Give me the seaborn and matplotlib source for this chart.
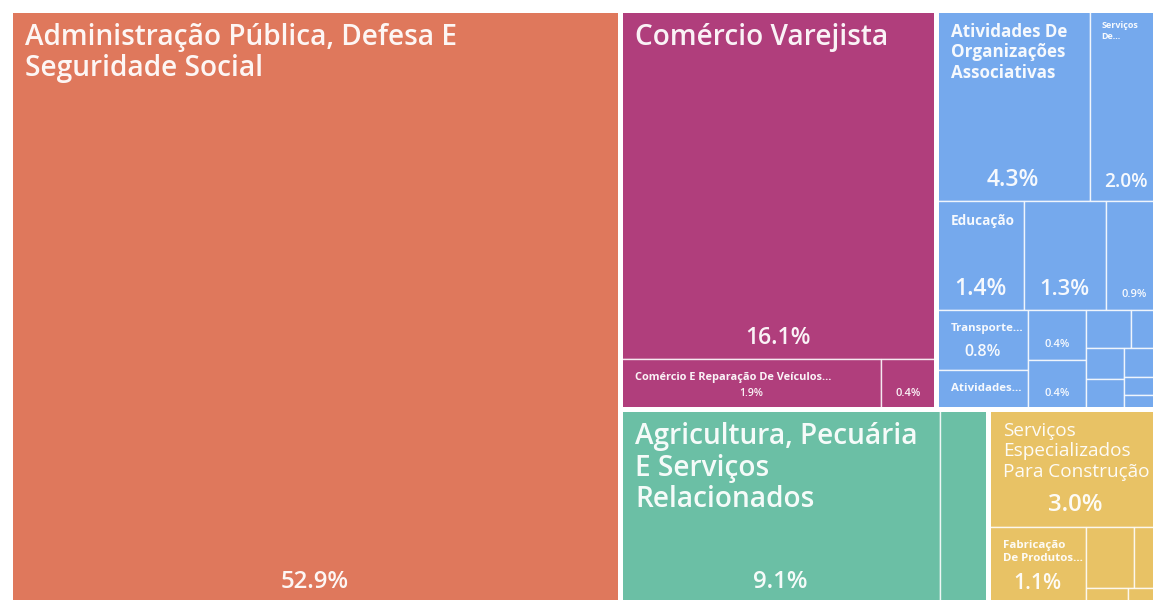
import matplotlib
matplotlib.use("Agg")
import matplotlib.pyplot as plt
from matplotlib.patches import Rectangle
import seaborn as sns
import numpy as np

# ---------------- data (percent of total) ----------------
admin_names = ["Administração Pública, Defesa E\nSeguridade Social"]
admin_values = [52.9]

comercio_names = ["Comércio Varejista", "Comércio E Reparação De Veículos...", ""]
comercio_values = [16.1, 1.9, 0.4]

servicos_names = ["Atividades De\nOrganizações\nAssociativas", "Serviços\nDe...", "Educação",
                  "", "", "Transporte...", "Atividades...", "", "",
                  "", "", "", "", "", "", ""]
servicos_values = [4.3, 2.0, 1.4, 1.3, 0.9, 0.8, 0.53, 0.42, 0.41,
                   0.25, 0.17, 0.17, 0.17, 0.16, 0.10, 0.08]

agro_names = ["Agricultura, Pecuária\nE Serviços\nRelacionados", ""]
agro_values = [9.1, 1.35]

construcao_names = ["Serviços\nEspecializados\nPara Construção", "Fabricação\nDe Produtos...", "", "", "", ""]
construcao_values = [3.0, 1.1, 0.42, 0.25, 0.10, 0.08]

groups = [
    (admin_names, admin_values),
    (comercio_names, comercio_values),
    (servicos_names, servicos_values),
    (agro_names, agro_values),
    (construcao_names, construcao_values),
]

# ---------------- style ----------------
group_colors = ["#DF785C", "#B03E7C", "#75A9ED", "#6BBFA5", "#E8C265"]
NAME_PX = {
    admin_names[0]: 28, comercio_names[0]: 28, agro_names[0]: 28,
    servicos_names[0]: 17, construcao_names[0]: 19, servicos_names[2]: 13.5,
    servicos_names[1]: 9, construcao_names[1]: 11.5, servicos_names[5]: 11.5,
    servicos_names[6]: 11.5, comercio_names[1]: 11,
}
NAME_WEIGHT = {
    admin_names[0]: "semibold", comercio_names[0]: "semibold", agro_names[0]: "semibold",
    construcao_names[0]: "normal",
}
PCT_PX = {
    admin_names[0]: 24, comercio_names[0]: 23, agro_names[0]: 24,
    servicos_names[0]: 23, construcao_names[0]: 24, servicos_names[1]: 19,
    servicos_names[2]: 23, construcao_names[1]: 21, servicos_names[5]: 16,
    comercio_names[1]: 10.5,
}

W_PX, H_PX = 1152.0, 594.0        # treemap extent on the canvas, pixels
X_STRETCH = 1.15                  # the layout was computed on a narrower canvas
LW, LH = W_PX / X_STRETCH, H_PX   # layout units
PHI = 0.5 * (1 + 5 ** 0.5)


def worst(areas, fixed, ratio):
    s = sum(areas)
    if s <= 0:
        return np.inf
    f = fixed * fixed * ratio
    sq = s * s
    return max(f * max(areas) / sq, sq / (f * min(areas)))


def position(areas, fixed, rect, flush):
    x, y, w, h = rect
    horizontal = fixed == w
    other = sum(areas) / fixed if fixed else 0
    span = h if horizontal else w
    if flush or other > span:
        other = span
    boxes = []
    last = x if horizontal else y
    end = (x + w) if horizontal else (y + h)
    for i, a in enumerate(areas):
        step = a / other if other else 0
        remain = end - last
        mod = remain if (i == len(areas) - 1 or remain < step) else step
        boxes.append((last, y, mod, other) if horizontal else (x, last, other, mod))
        last += mod
    rect = (x, y + other, w, h - other) if horizontal else (x + other, y, w - other, h)
    return boxes, rect


def squarify(values, rect):
    order = sorted(range(len(values)), key=lambda k: -values[k])
    x, y, w, h = rect
    total = float(sum(values))
    areas = [values[k] / total * w * h for k in order]
    result = [None] * len(values)
    cur = rect
    fixed = min(w, h)
    best = np.inf
    row = []
    i = 0
    while i < len(areas):
        row.append(i)
        score = worst([areas[j] for j in row], fixed, PHI)
        if score <= best:
            i += 1
            best = score
        else:
            row.pop()
            boxes, cur = position([areas[j] for j in row], fixed, cur, False)
            for j, b in zip(row, boxes):
                result[order[j]] = b
            fixed = min(cur[2], cur[3])
            row = []
            best = np.inf
    if row:
        boxes, cur = position([areas[j] for j in row], fixed, cur, True)
        for j, b in zip(row, boxes):
            result[order[j]] = b
    return result


sns.set_theme(style="white")
plt.rcParams["font.family"] = ["Open Sans", "DejaVu Sans"]

fig = plt.figure(figsize=(11.53, 6.0), dpi=100)
fig.patch.set_facecolor("white")
ax = fig.add_axes([10 / 1153, (600 - 10 - H_PX) / 600, W_PX / 1153, H_PX / 600])
ax.set_xlim(0, LW)
ax.set_ylim(LH, 0)
ax.set_axis_off()

PT = 0.72  # points per pixel at 100 dpi
text_color = (1, 1, 1, 0.94)

group_totals = [sum(v) for _, v in groups]
group_rects = squarify(group_totals, (0, 0, LW, LH))

for gi, ((names, values), grect) in enumerate(zip(groups, group_rects)):
    color = group_colors[gi]
    leaf_rects = squarify(values, grect)
    for name, val, (x, y, w, h) in zip(names, values, leaf_rects):
        ax.add_patch(Rectangle((x, y), w, h, facecolor=color,
                               edgecolor=(1, 1, 1, 0.8), linewidth=1.4 * PT))
        wpx, hpx = w * X_STRETCH, h
        if name:
            npx = NAME_PX.get(name, 10)
            padx, pady = (15, 13) if npx >= 10 else (11, 11)
            ax.annotate(name, xy=(x, y), xytext=(padx * PT, -pady * PT),
                        textcoords="offset points", ha="left", va="top",
                        fontsize=npx * PT, color=text_color,
                        linespacing=(npx + 3) / npx,
                        fontweight=NAME_WEIGHT.get(name, "bold"),
                        annotation_clip=False, clip_on=True)
        show_pct = (name in PCT_PX) or (wpx >= 52 and hpx >= 45 and val >= 0.4 and name == "")
        if show_pct:
            ppx = PCT_PX.get(name, 22 if (wpx >= 70 and hpx >= 80) else 11)
            ax.annotate(f"{val:.1f}%", xy=(x + w / 2, y + h),
                        xytext=(0, (10 + ppx / 2) * PT), textcoords="offset points",
                        ha="center", va="center", fontsize=ppx * PT, color=text_color,
                        fontweight="semibold", annotation_clip=False, clip_on=True)
    gx, gy, gw, gh = grect
    ax.add_patch(Rectangle((gx, gy), gw, gh, fill=False, edgecolor="white",
                           linewidth=5 * PT, clip_on=False))

fig.savefig("out.png", dpi=100, facecolor="white")
